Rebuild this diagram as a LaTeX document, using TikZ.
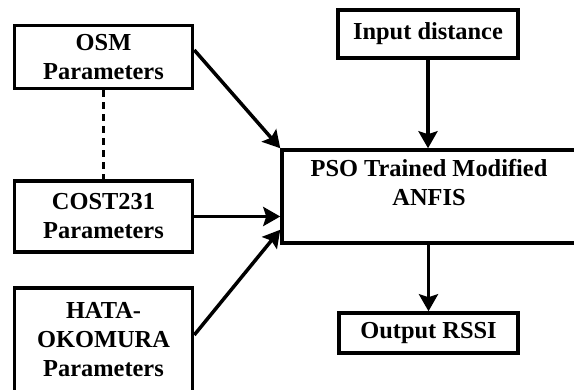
\documentclass[tikz,border=0pt]{standalone}
\usepackage{fontspec}
\setmainfont{Liberation Serif}
\usetikzlibrary{arrows.meta}

\begin{document}
\begin{tikzpicture}[x=1pt,y=1pt]
	\tikzstyle{every node}+=[inner sep=0pt,align=center,font=\fontsize{24.4}{29}\selectfont\bfseries]
	\tikzstyle{block}=[draw,rectangle,line width=3.5pt,minimum width=178pt]
	\tikzstyle{flow}=[line width=3.5pt,-{Stealth[length=17pt,width=19pt,inset=3pt]}]
	\useasboundingbox (0,0) rectangle (574,-390);
	\clip (0,0) rectangle (574,-390);
	\draw (103.5,-57) node [block,minimum height=63pt] (osm) {OSM\\Parameters};
	\draw (103.5,-216.5) node [block,minimum height=71pt] (cost) {COST231\\Parameters};
	\draw (103.5,-340) node [block,minimum height=104pt] (hata) {HATA-\\OKOMURA\\Parameters};
	\draw (429,-196.5) node [block,minimum width=294pt,minimum height=93pt] (pso) {PSO Trained Modified\\ANFIS\\\mbox{}};
	\draw (428,-34) node [block,minimum width=180pt,minimum height=48pt] (inp) {Input distance};
	\draw (428.5,-333) node [block,minimum width=179pt,minimum height=40pt] (out) {Output RSSI};
	\draw [line width=3.5pt,dash pattern=on 7pt off 5pt] (osm) -- (cost);
	\draw [flow] ([yshift=7pt]osm.east) -- (pso.north west);
	\draw [flow] (cost.east) -- (cost.east -| pso.west);
	\draw [flow] ([yshift=5pt]hata.east) -- ([yshift=15pt]pso.south west);
	\draw [flow] (inp.south) -- (inp.south |- pso.north);
	\draw [flow] (out.north |- pso.south) -- (out.north);
\end{tikzpicture}
\end{document}
